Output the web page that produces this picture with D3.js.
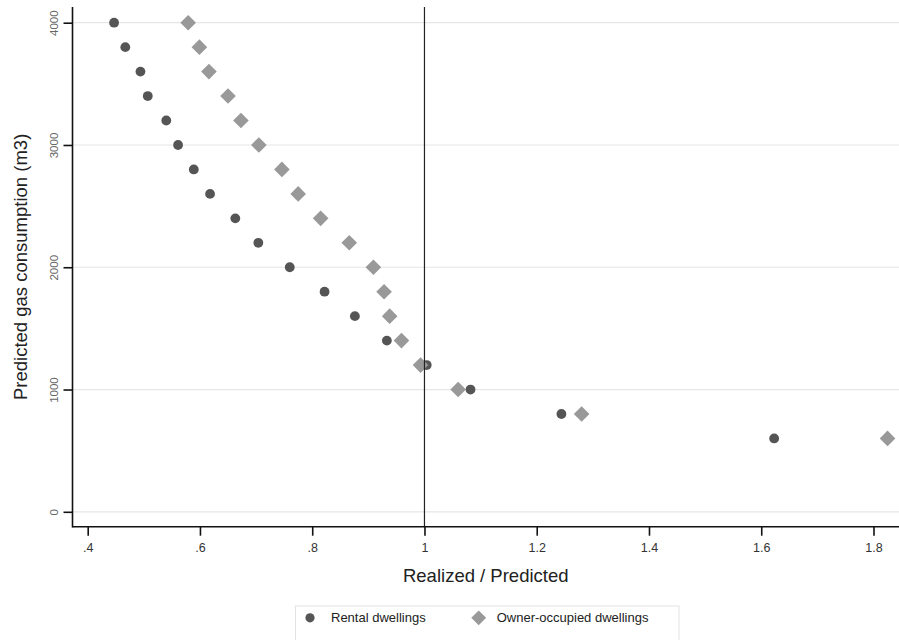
<!DOCTYPE html>
<html>
<head>
<meta charset="utf-8">
<script src="https://cdn.jsdelivr.net/npm/d3@7"></script>
<style>
  body { margin: 0; background: #fff; }
  svg { display: block; font-family: Arial, "Liberation Sans", sans-serif; }
</style>
</head>
<body>
<svg id="chart" width="899" height="640"></svg>
<script>
// Data
const predicted = [4000, 3800, 3600, 3400, 3200, 3000, 2800, 2600, 2400, 2200, 2000, 1800, 1600, 1400, 1200, 1000, 800, 600];
const rentalRatio = [0.447, 0.467, 0.494, 0.507, 0.540, 0.561, 0.589, 0.618, 0.663, 0.704, 0.760, 0.822, 0.876, 0.933, 1.004, 1.082, 1.244, 1.623];
const ownerRatio  = [0.579, 0.599, 0.616, 0.650, 0.673, 0.705, 0.746, 0.775, 0.815, 0.866, 0.909, 0.928, 0.938, 0.959, 0.993, 1.060, 1.280, 1.825];
const xTicks = [0.4, 0.6, 0.8, 1.0, 1.2, 1.4, 1.6, 1.8];
const yTicks = [0, 1000, 2000, 3000, 4000];
const seriesNames = ["Rental dwellings", "Owner-occupied dwellings"];
const refX = 1;

const svg = d3.select("#chart");
const plotL = 72.5, plotR = 899, plotT = 7, plotB = 526.7;

const x = d3.scaleLinear().domain([0.4, 1.8]).range([87.7, 873.5]);
const y = d3.scaleLinear().domain([0, 4000]).range([511.8, 22.7]);

// grid
svg.append("g").selectAll("line").data(yTicks).join("line")
  .attr("x1", plotL).attr("x2", plotR)
  .attr("y1", d => y(d)).attr("y2", d => y(d))
  .attr("stroke", "#e6e6e6").attr("stroke-width", 1.2);

// rental circles
svg.append("g").selectAll("circle").data(predicted.map((p, i) => [rentalRatio[i], p])).join("circle")
  .attr("cx", d => x(d[0])).attr("cy", d => y(d[1])).attr("r", 4.9)
  .attr("fill", "#555555");

// owner diamonds
const diamond = d3.symbol().type(d3.symbolSquare).size(122);
svg.append("g").selectAll("path").data(predicted.map((p, i) => [ownerRatio[i], p])).join("path")
  .attr("d", diamond)
  .attr("transform", d => `translate(${x(d[0])},${y(d[1])}) rotate(45)`)
  .attr("fill", "#999999");

// reference line
svg.append("line")
  .attr("x1", x(refX)).attr("x2", x(refX))
  .attr("y1", plotT).attr("y2", plotB)
  .attr("stroke", "#222").attr("stroke-width", 1.2);

// x axis
const xAxis = d3.axisBottom(x).tickValues(xTicks).tickSize(9).tickSizeOuter(0)
  .tickFormat(d => d === 1 ? "1" : (d < 1 ? d3.format(".1f")(d).replace(/^0/, "") : d3.format(".1f")(d)));
const gx = svg.append("g").attr("transform", `translate(0,${plotB})`).call(xAxis);
gx.select(".domain").remove();
gx.append("line").attr("x1", plotL).attr("x2", plotR).attr("y1", 0).attr("y2", 0)
  .attr("stroke", "#111").attr("stroke-width", 1.6);
gx.selectAll(".tick line").attr("stroke", "#111").attr("stroke-width", 1.6);
gx.selectAll(".tick text").attr("fill", "#333").attr("font-size", 12.5).attr("dy", "1.05em")
  .attr("font-family", "Arial, 'Liberation Sans', sans-serif");

// y axis
const yAxis = d3.axisLeft(y).tickValues(yTicks).tickSize(9).tickSizeOuter(0).tickFormat(d3.format("d"));
const gy = svg.append("g").attr("transform", `translate(${plotL},0)`).call(yAxis);
gy.select(".domain").remove();
gy.append("line").attr("x1", 0).attr("x2", 0).attr("y1", plotT).attr("y2", plotB + 0.8)
  .attr("stroke", "#111").attr("stroke-width", 1.6);
gy.selectAll(".tick line").attr("stroke", "#111").attr("stroke-width", 1.6);
gy.selectAll(".tick text")
  .attr("fill", "#666").attr("font-size", 11.5)
  .attr("font-family", "Arial, 'Liberation Sans', sans-serif")
  .attr("x", null).attr("dy", null)
  .attr("text-anchor", "middle")
  .attr("transform", "translate(-19,0) rotate(-90)")
  .attr("y", 0).attr("dy", "0.35em");

// axis titles
svg.append("text").attr("x", (plotL + plotR) / 2).attr("y", 581.5)
  .attr("text-anchor", "middle").attr("font-size", 18.5).attr("fill", "#222")
  .text("Realized / Predicted");
svg.append("text")
  .attr("transform", `translate(27,${(plotT + plotB) / 2}) rotate(-90)`)
  .attr("text-anchor", "middle").attr("font-size", 18.5).attr("fill", "#222")
  .text("Predicted gas consumption (m3)");

// legend
const lg = svg.append("g");
lg.append("rect").attr("x", 295.5).attr("y", 606).attr("width", 383.5).attr("height", 50)
  .attr("fill", "#fff").attr("stroke", "#e3e3e3").attr("stroke-width", 1);
lg.append("circle").attr("cx", 310).attr("cy", 617.8).attr("r", 4.6).attr("fill", "#555555");
lg.append("text").attr("x", 331).attr("y", 622.3).attr("font-size", 13).attr("fill", "#222").text(seriesNames[0]);
lg.append("path").attr("d", d3.symbol().type(d3.symbolSquare).size(110)).attr("transform", "translate(478.7,617.8) rotate(45)").attr("fill", "#999999");
lg.append("text").attr("x", 496.7).attr("y", 622.3).attr("font-size", 13).attr("fill", "#222").text(seriesNames[1]);
</script>
</body>
</html>
